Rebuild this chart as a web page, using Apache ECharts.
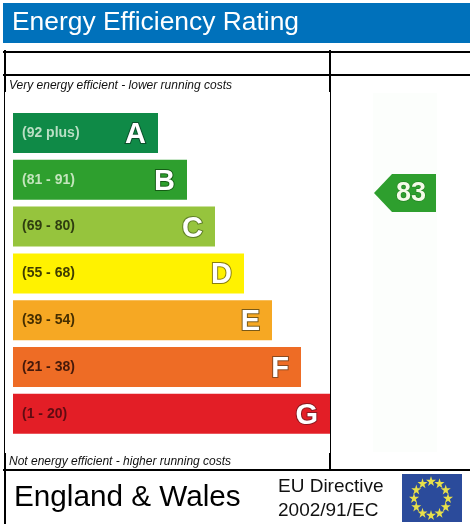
<!DOCTYPE html>
<html>
<head>
<meta charset="utf-8">
<title>Energy Efficiency Rating</title>
<script src="https://cdn.jsdelivr.net/npm/echarts@6/dist/echarts.min.js"></script>
<style>
  html, body { margin: 0; padding: 0; background: #fff; }
  #main { width: 470px; height: 524px; }
</style>
</head>
<body>
<div id="main"></div>
<script>
var bands = ["A", "B", "C", "D", "E", "F", "G"];
var ranges = ["(92 plus)", "(81 - 91)", "(69 - 80)", "(55 - 68)", "(39 - 54)", "(21 - 38)", "(1 - 20)"];
var barLengths = [145, 174, 202, 231, 259, 288, 317];
var barColors = ["#0f8a47", "#2e9f2e", "#96c43d", "#fff200", "#f6a823", "#ee6c25", "#e31e26"];
var rangeColors = ["#b9dfc4", "#c4e5bd", "#2f3d10", "#3f3c00", "#452e00", "#45190a", "#5f0c12"];
var letterBorders = ["#0a4f2a", "#155c15", "#5f7f28", "#8a7f10", "#7a5a18", "#8a4a20", "#8c1a20"];
var currentLabel = ["Current"];
var currentRating = [83];
var starHours = [0, 1, 2, 3, 4, 5, 6, 7, 8, 9, 10, 11];

var font = '"Liberation Sans", Arial, sans-serif';
var starPath = "path://M50 0 L61 35 L98 35 L68 57 L79 91 L50 70 L21 91 L32 57 L2 35 L39 35 Z";

var myChart = echarts.init(document.getElementById("main"), null, { renderer: "canvas" });

function line(x1, y1, x2, y2, w) {
  return { type: "line", shape: { x1: x1, y1: y1, x2: x2, y2: y2 }, style: { stroke: "#000", lineWidth: w } };
}
function text(str, x, y, size, color, style) {
  return { type: "text", x: x, y: y, style: { text: str, fill: color, font: (style || "") + " " + size + "px " + font, textVerticalAlign: "middle" } };
}

var option = {
  animation: false,
  backgroundColor: "#fff",
  graphic: [
    { type: "rect", shape: { x: 3, y: 3, width: 467, height: 40 }, style: { fill: "#0071bb" } },
    text("Energy Efficiency Rating", 12, 23, 26.4, "#fff"),
    // table frame
    line(3, 52, 470, 52, 2),
    line(3, 75, 470, 75, 2),
    line(3, 470, 470, 470, 2),
    line(5, 50, 5, 92, 2),
    line(4.5, 92, 4.5, 453, 1),
    line(5, 453, 5, 524, 2),
    line(330, 50, 330, 92, 2),
    line(330.5, 92, 330.5, 453, 1),
    line(330, 453, 330, 470, 2),
    text("Very energy efficient - lower running costs", 9, 86, 12, "#111", "italic"),
    text("Not energy efficient - higher running costs", 9, 461.5, 12, "#111", "italic"),
    text("England & Wales", 14, 498, 29.7, "#000"),
    text("EU Directive", 278, 487, 19, "#111"),
    text("2002/91/EC", 278, 511, 19, "#111"),
    { type: "rect", shape: { x: 402, y: 474, width: 60, height: 48 }, style: { fill: "#2b4b9b" } }
  ],
  grid: [
    { left: 13, top: 109.6, width: 317, height: 327.6 },
    { left: 373, top: 93, width: 64, height: 359, show: true, backgroundColor: "#fcfefc", borderWidth: 0 }
  ],
  xAxis: [
    { gridIndex: 0, type: "value", min: 0, max: 317, show: false },
    { gridIndex: 1, type: "category", data: currentLabel, show: false }
  ],
  yAxis: [
    { gridIndex: 0, type: "category", data: bands, inverse: true, show: false },
    { gridIndex: 1, type: "value", min: 0, max: 115, show: false }
  ],
  polar: { center: [431, 498], radius: 17 },
  angleAxis: { type: "value", min: 0, max: 12, startAngle: 90, show: false },
  radiusAxis: { type: "value", min: 0, max: 1, show: false },
  series: [
    {
      type: "bar",
      xAxisIndex: 0,
      yAxisIndex: 0,
      barWidth: 40,
      data: barLengths.map(function (v, i) {
        return {
          value: v,
          itemStyle: { color: barColors[i] },
          label: { formatter: ranges[i], color: rangeColors[i] }
        };
      }),
      label: {
        show: true,
        position: "insideLeft",
        distance: 9,
        fontFamily: font,
        fontWeight: "bold",
        fontSize: 14
      }
    },
    {
      type: "bar",
      xAxisIndex: 0,
      yAxisIndex: 0,
      barWidth: 40,
      barGap: "-100%",
      data: barLengths.map(function (v, i) {
        return {
          value: v,
          itemStyle: { color: "transparent" },
          label: { formatter: bands[i], textBorderColor: letterBorders[i] }
        };
      }),
      label: {
        show: true,
        position: "insideRight",
        distance: 12,
        offset: [0, 2],
        color: "#fff",
        textBorderWidth: 2,
        fontFamily: font,
        fontWeight: "bold",
        fontSize: 29
      }
    },
    {
      type: "scatter",
      xAxisIndex: 1,
      yAxisIndex: 1,
      symbol: "path://M18 0 L62 0 L62 38 L18 38 L0 19 Z",
      symbolSize: [62, 38],
      itemStyle: { color: "#2e9f2e", opacity: 1 },
      data: currentRating.map(function (v, i) { return [currentLabel[i], v]; }),
      label: {
        show: true,
        position: "inside",
        offset: [6, 1],
        formatter: function (p) { return p.value[1]; },
        color: "#f4fbe8",
        textBorderColor: "#1e7a1e",
        textBorderWidth: 1,
        fontFamily: font,
        fontWeight: "bold",
        fontSize: 27
      }
    },
    {
      type: "scatter",
      coordinateSystem: "polar",
      symbol: starPath,
      symbolSize: 10,
      z: 5,
      itemStyle: { color: "#e8e04a", opacity: 1 },
      data: starHours.map(function (h) { return [1, h]; })
    }
  ]
};
myChart.setOption(option);
</script>
</body>
</html>
